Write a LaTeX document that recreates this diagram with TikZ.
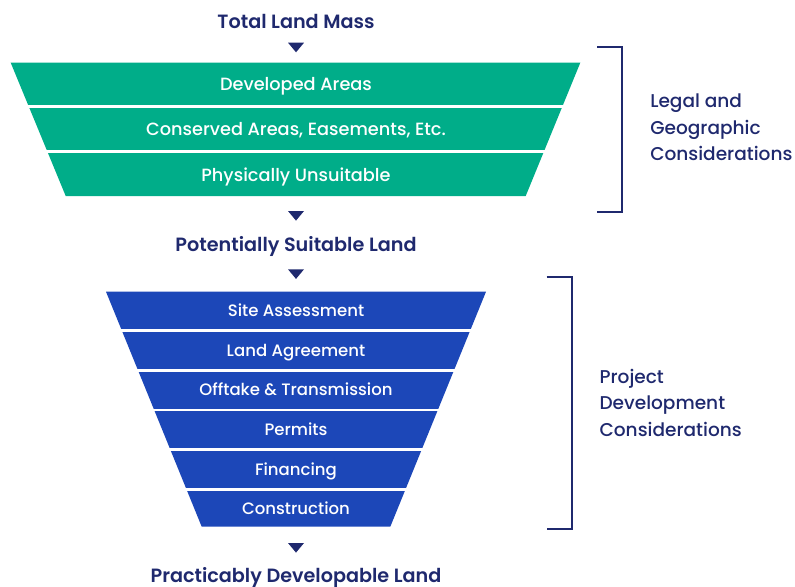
\documentclass[tikz,border=0pt]{standalone}
\usepackage{fontspec}
\setmainfont{Poppins}
\IfFontExistsTF{Poppins Medium}{\newfontfamily\bandfont{Poppins Medium}}{\newfontfamily\bandfont{Poppins}}
\IfFontExistsTF{Poppins SemiBold}{\newfontfamily\headfont{Poppins SemiBold}}{\newcommand\headfont{\bfseries}}
\definecolor{navy}{RGB}{31,41,110}
\definecolor{landgreen}{RGB}{0,173,137}
\definecolor{devblue}{RGB}{28,71,184}
\tikzset{
  landtitle/.style={font=\headfont\fontsize{14.4}{16}\selectfont, text=navy, anchor=base, inner sep=0pt},
  greenlabel/.style={font=\bandfont\fontsize{13.3}{15}\selectfont, text=white, anchor=base, inner sep=0pt},
  bluelabel/.style={font=\bandfont\fontsize{12.4}{15}\selectfont, text=white, anchor=base, inner sep=0pt},
  sidelabel/.style={font=\bandfont\fontsize{13.9}{20.1}\selectfont, text=navy, align=left, anchor=west, inner sep=0pt},
  bracketline/.style={draw=navy, line width=1.5pt},
}
\begin{document}
\begin{tikzpicture}[x=0.75pt,y=-0.75pt]
\useasboundingbox (0,0) rectangle (795,586);
% green funnel
\fill[landgreen] (10.7,62.7) -- (580.3,62.7) -- (525.7,196) -- (65.7,196) -- cycle;
\foreach \gy in {106.7,151.7} \draw[white, line width=2.1pt] (0,\gy) -- (592,\gy);
% blue funnel
\fill[devblue] (106,291.7) -- (486,291.7) -- (390.3,526.7) -- (201.7,526.7) -- cycle;
\foreach \by in {330.5,370.5,409.7,449.5,489.5} \draw[white, line width=1.8pt] (90,\by) -- (500,\by);
% titles
\node[landtitle] (total) at (296,28.7) {Total Land Mass};
\node[landtitle] (suitable) at (296,251.5) {Potentially Suitable Land};
\node[landtitle] (practical) at (296,582.5) {Practicably Developable Land};
% small arrows
\foreach \ty in {42.7,211,269.3,543} \fill[navy] (288,\ty) -- (304,\ty) -- (296,\ty+9.6) -- cycle;
% band labels
\node[greenlabel] (developed) at (296,90.3) {Developed Areas};
\node[greenlabel] (conserved) at (296,135.6) {Conserved Areas, Easements, Etc.};
\node[greenlabel] (unsuitable) at (296,181.1) {Physically Unsuitable};
\node[bluelabel] (site) at (296,316.4) {Site Assessment};
\node[bluelabel] (agreement) at (296,356.4) {Land Agreement};
\node[bluelabel] (offtake) at (296,395.9) {Offtake \& Transmission};
\node[bluelabel] (permits) at (296,435.6) {Permits};
\node[bluelabel] (financing) at (296,475.4) {Financing};
\node[bluelabel] (construction) at (296,514.6) {Construction};
% brackets
\draw[bracketline] (597.3,46.7) -- (621.7,46.7) -- (621.7,211.7) -- (597.3,211.7);
\draw[bracketline] (546.7,277) -- (571.7,277) -- (571.7,529) -- (546.7,529);
\node[sidelabel] (legal) at (650,127.3) {Legal and\\Geographic\\Considerations};
\node[sidelabel] (project) at (599.3,402.9) {Project\\Development\\Considerations};
\end{tikzpicture}
\end{document}
